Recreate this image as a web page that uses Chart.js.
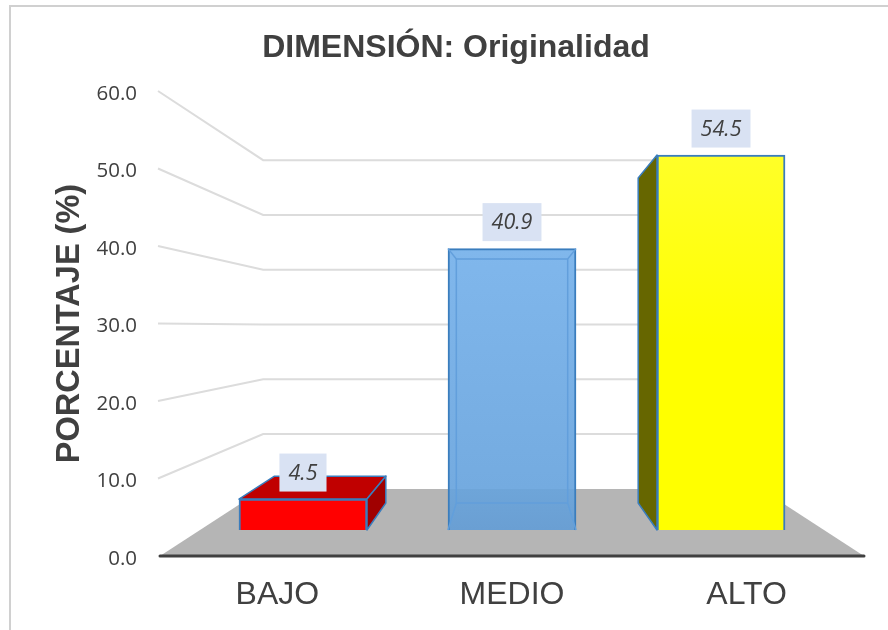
<!DOCTYPE html>
<html>
<head>
<meta charset="utf-8">
<style>html,body{margin:0;padding:0;background:#fff}canvas{display:block}</style>
<script src="https://cdn.jsdelivr.net/npm/chart.js@4/dist/chart.umd.min.js"></script>
</head>
<body>
<div style="width:888px;height:630px"><canvas id="c" width="888" height="630"></canvas></div>
<script>
const categories = ['BAJO', 'MEDIO', 'ALTO'];
const barSlots = [0, 1, 2];
const percentages = [4.5, 40.9, 54.5];
const chartTitle = 'DIMENSIÓN: Originalidad';
const yAxisTitle = 'PORCENTAJE (%)';
const frontColors = ['#ff0000', null, null];
const topColors = ['#c00000', '#c00000', '#c00000'];
const sideColors = ['#a00000', '#5b9bd5', '#666600'];
const edgeColor = '#3a7dbd';
const labelBox = '#d9e2f3';
const textColor = '#404040';

const VP_VALUE = 29.55;      // height of the vanishing point, in axis units
const WALL_DEPTH = 0.707;    // back wall depth
const BAR_SX = 0.87, BAR_SY = 0.867;     // bar depth

function vanishing(chart) {
  const x = chart.scales.x, y = chart.scales.y;
  return { x: (x.left + x.right) / 2, y: y.getPixelForValue(VP_VALUE) };
}
function toDepth(v, px, py, sx, sy) {
  return [v.x + (px - v.x) * sx, v.y + (py - v.y) * sy];
}
function poly(ctx, pts, fill, stroke, lw) {
  ctx.beginPath();
  pts.forEach((p, i) => i ? ctx.lineTo(p[0], p[1]) : ctx.moveTo(p[0], p[1]));
  ctx.closePath();
  if (fill) { ctx.fillStyle = fill; ctx.fill(); }
  if (stroke) { ctx.strokeStyle = stroke; ctx.lineWidth = lw; ctx.lineJoin = 'round'; ctx.stroke(); }
}

const scene = {
  id: 'scene',
  afterLayout(chart) {
    // the title is centred over the plot frame, not the window
    chart.titleBlock.left = 24;
    chart.titleBlock.right = 888;
  },
  beforeDraw(chart) {
    const { ctx } = chart, xs = chart.scales.x, ys = chart.scales.y, v = vanishing(chart);
    // tick labels sit slightly below their gridline starts
    ys.getLabelItems(chart.chartArea).forEach(it => { it.options.translation[1] += 3; });
    ctx.save();
    ctx.fillStyle = '#fff';
    ctx.fillRect(0, 0, 888, 630);
    ctx.strokeStyle = '#d0d0d0';
    ctx.lineWidth = 2;
    ctx.strokeRect(10, 6, 900, 700);
    // floor
    const y0 = ys.getPixelForValue(0);
    const a = [xs.left, y0], b = [xs.right, y0];
    poly(ctx, [a, b, toDepth(v, b[0], b[1], WALL_DEPTH, WALL_DEPTH), toDepth(v, a[0], a[1], WALL_DEPTH, WALL_DEPTH)], '#b5b5b5');
    // wall gridlines
    ctx.strokeStyle = '#dcdcdc';
    ctx.lineWidth = 2;
    ys.ticks.forEach(t => {
      if (t.value === 0) return;
      const y = ys.getPixelForValue(t.value);
      const p = toDepth(v, xs.left, y, WALL_DEPTH, WALL_DEPTH);
      const q = toDepth(v, xs.right, y, WALL_DEPTH, WALL_DEPTH);
      ctx.beginPath();
      ctx.moveTo(xs.left - 2, y);
      ctx.lineTo(p[0], p[1]);
      ctx.lineTo(q[0], q[1]);
      ctx.stroke();
    });
    ctx.restore();
  },
  beforeDatasetsDraw(chart) {
    const { ctx } = chart, v = vanishing(chart), xs = chart.scales.x, ys = chart.scales.y;
    ctx.save();
    // category axis line
    ctx.strokeStyle = '#404040';
    ctx.lineWidth = 3;
    ctx.lineCap = 'round';
    ctx.beginPath();
    ctx.moveTo(xs.left, ys.getPixelForValue(0));
    ctx.lineTo(xs.right, ys.getPixelForValue(0));
    ctx.stroke();
    ctx.lineCap = 'butt';
    chart.getDatasetMeta(0).data.forEach((bar, i) => {
      const l = bar.x - bar.width / 2, r = bar.x + bar.width / 2, t = bar.y, b = bar.base;
      const d = (x, y) => toDepth(v, x, y, BAR_SX, BAR_SY);
      if (t > v.y) poly(ctx, [[l, t], [r, t], d(r, t), d(l, t)], topColors[i], edgeColor, 1.5);
      if (r < v.x) poly(ctx, [[r, t], d(r, t), d(r, b), [r, b]], sideColors[i], edgeColor, 1.5);
      if (l > v.x) poly(ctx, [[l, t], d(l, t), d(l, b), [l, b]], sideColors[i], edgeColor, 1.5);
    });
    ctx.restore();
  },
  afterDatasetsDraw(chart) {
    const { ctx } = chart, v = vanishing(chart);
    ctx.save();
    chart.getDatasetMeta(0).data.forEach((bar, i) => {
      const l = bar.x - bar.width / 2, r = bar.x + bar.width / 2, t = bar.y, b = bar.base;
      const d = (x, y) => toDepth(v, x, y, BAR_SX, BAR_SY);
      // see-through bar: inner back edges
      if (l < v.x && r > v.x) {
        const c = [[l, t], [r, t], [r, b], [l, b]], k = c.map(p => d(p[0], p[1]));
        ctx.strokeStyle = '#629fdc';
        ctx.lineWidth = 1.5;
        poly(ctx, k, null, '#629fdc', 1.5);
        c.forEach((p, n) => {
          ctx.beginPath(); ctx.moveTo(p[0], p[1]); ctx.lineTo(k[n][0], k[n][1]); ctx.stroke();
        });
      }
      // value label
      const txt = percentages[i].toFixed(1);
      ctx.font = 'italic 21.5px "Open Sans"';
      const bw = ctx.measureText(txt).width + 18, cy = t - 26.5;
      ctx.fillStyle = labelBox;
      ctx.fillRect(bar.x - bw / 2, cy - 19, bw, 38);
      ctx.fillStyle = textColor;
      ctx.textAlign = 'center';
      ctx.textBaseline = 'middle';
      ctx.fillText(txt, bar.x, cy + 1);
    });
    ctx.restore();
  }
};

function barFill(ctx) {
  const i = ctx.dataIndex, c = ctx.chart;
  if (!c.chartArea) return '#ffff00';
  if (frontColors[i]) return frontColors[i];
  const top = c.scales.y2.getPixelForValue(percentages[i]), bot = c.scales.y2.getPixelForValue(0);
  const g = c.ctx.createLinearGradient(0, top, 0, bot);
  if (i === 1) {
    const floorY = toDepth(vanishing(c), 0, c.scales.y.getPixelForValue(0), WALL_DEPTH, WALL_DEPTH)[1];
    const f = (floorY - top) / (bot - top);
    g.addColorStop(0, '#80b7ec');
    g.addColorStop(f, '#74abe0');
    g.addColorStop(f, '#6ea5d9');
    g.addColorStop(1, '#6a9fd3');
  } else {
    g.addColorStop(0, '#ffff28');
    g.addColorStop(0.5, '#ffff00');
    g.addColorStop(1, '#ffff00');
  }
  return g;
}

new Chart(document.getElementById('c'), {
  type: 'bar',
  data: {
    labels: categories,
    datasets: [{
      data: barSlots.map((s, i) => ({ x: s, y: percentages[i] })),
      xAxisID: 'x2',
      yAxisID: 'y2',
      barThickness: 128,
      backgroundColor: barFill,
      borderColor: edgeColor,
      borderWidth: 2
    }]
  },
  plugins: [scene],
  options: {
    responsive: false,
    animation: false,
    devicePixelRatio: 1,
    layout: { padding: { left: 0, right: 24, top: 0, bottom: 0 } },
    plugins: {
      legend: { display: false },
      tooltip: { enabled: false },
      title: {
        display: true,
        text: chartTitle,
        color: textColor,
        font: { family: '"Liberation Sans"', size: 32, weight: 'bold', lineHeight: 1.2 },
        padding: { top: 29, bottom: 23.6 }
      }
    },
    scales: {
      x: {
        type: 'category',
        labels: categories,
        offset: true,
        grid: { display: false, drawTicks: false },
        border: { display: false },
        ticks: { color: textColor, padding: 20, maxRotation: 0, autoSkip: false, font: { family: '"Liberation Sans"', size: 32 } },
        afterFit(s) { s.height = 74; }
      },
      y: {
        type: 'linear',
        min: 0,
        max: 60,
        grid: { display: false, drawTicks: false },
        border: { display: false },
        ticks: { stepSize: 10, color: textColor, padding: 23, font: { family: '"Open Sans"', size: 20.5 }, callback: v => v.toFixed(1) },
        title: { display: true, text: yAxisTitle, color: textColor, padding: { top: 51, bottom: 0 }, font: { family: '"Liberation Sans"', size: 32.5, weight: 'bold', lineHeight: 1.2 } },
        afterFit(s) { s.width = 160; }
      },
      x2: { type: 'linear', display: false, offset: false, min: -0.684, max: 2.684 },
      y2: { type: 'linear', display: false, min: -3.779, max: 63.81 }
    }
  }
});
</script>
</body>
</html>
